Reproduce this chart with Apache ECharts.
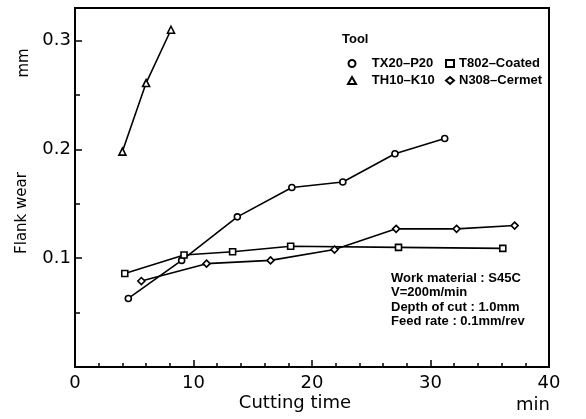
<!DOCTYPE html>
<html>
<head>
<meta charset="utf-8">
<script src="https://cdn.jsdelivr.net/npm/echarts@6/dist/echarts.min.js"></script>
<style>
  html, body { margin: 0; padding: 0; background: #fff; }
  #chart { width: 586px; height: 419px; }
</style>
</head>
<body>
<div id="chart"></div>
<script>
// cutting time (min) / flank wear (mm)
var tx20Time = [4.5, 9.0, 13.7, 18.3, 22.6, 27.0, 31.2]
var tx20Wear = [0.063, 0.098, 0.138, 0.165, 0.170, 0.196, 0.210]
var th10Time = [4.0, 6.0, 8.1]
var th10Wear = [0.198, 0.261, 0.310]
var t802Time = [4.2, 9.2, 13.3, 18.2, 27.3, 36.1]
var t802Wear = [0.086, 0.103, 0.106, 0.111, 0.110, 0.109]
var n308Time = [5.6, 11.1, 16.5, 21.9, 27.1, 32.2, 37.1]
var n308Wear = [0.079, 0.095, 0.098, 0.108, 0.127, 0.127, 0.130]

var noteLines = ['Work material : S45C', 'V=200m/min', 'Depth of cut : 1.0mm', 'Feed rate : 0.1mm/rev']

function pairs (xs, ys) {
    return xs.map(function (x, i) { return [x, ys[i]] })
}

function makeSeries (name, symbol, xs, ys, size) {
    return {
        name: name,
        type: 'line',
        data: pairs(xs, ys),
        symbol: symbol,
        symbolSize: size,
        showAllSymbol: true,
        lineStyle: { color: '#000', width: 1.6 },
        itemStyle: { color: '#fff', borderColor: '#000', borderWidth: 1.6 },
        emphasis: { disabled: true },
        z: 3
    }
}

var font = '"DejaVu Sans", sans-serif'
var smallFont = '"Liberation Sans", Arial, sans-serif'
var legendText = { color: '#000', fontSize: 13, fontWeight: 'bold', fontFamily: smallFont }

var option = {
    animation: false,
    grid: { left: 75, right: 37, top: 8, bottom: 52, show: true, borderColor: '#000', borderWidth: 2 },
    xAxis: {
        type: 'value',
        min: 0,
        max: 40,
        interval: 10,
        axisLine: { lineStyle: { color: '#000', width: 2 } },
        axisTick: { inside: true, length: 7, lineStyle: { color: '#000', width: 1.5 } },
        minorTick: { show: true, splitNumber: 5, length: 4, lineStyle: { color: '#000', width: 1.5 } },
        splitLine: { show: false },
        axisLabel: { color: '#000', fontSize: 18, fontFamily: font, margin: 7 }
    },
    yAxis: {
        type: 'value',
        min: 0,
        max: 0.33,
        interval: 0.1,
        axisLine: { lineStyle: { color: '#000', width: 2 } },
        axisTick: { inside: true, length: 7, lineStyle: { color: '#000', width: 1.5 } },
        minorTick: { show: true, splitNumber: 2, length: 5, lineStyle: { color: '#000', width: 1.5 } },
        splitLine: { show: false },
        axisLabel: {
            color: '#000', fontSize: 18, fontFamily: font, margin: 4,
            showMaxLabel: false,
            formatter: function (v) { return v === 0 ? '' : v.toFixed(1) }
        }
    },
    legend: [
        {
            left: 342, top: 52, orient: 'vertical', itemGap: 4,
            itemWidth: 8, itemHeight: 7,
            textStyle: legendText,
            formatter: function (n) { return '   ' + n },
            data: [{ name: 'TX20–P20', icon: 'circle' }, { name: 'TH10–K10', icon: 'triangle' }]
        },
        {
            left: 440, top: 52, orient: 'vertical', itemGap: 4,
            itemWidth: 8, itemHeight: 7,
            textStyle: legendText,
            data: [{ name: 'T802–Coated', icon: 'rect' }, { name: 'N308–Cermet', icon: 'diamond' }]
        }
    ],
    graphic: [
        { type: 'text', left: 342, top: 33, style: { text: 'Tool', fill: '#000', font: 'bold 13px ' + smallFont } },
        { type: 'text', left: 391, top: 271, style: { text: noteLines.join('\n'), fill: '#000', font: 'bold 13px ' + smallFont, lineHeight: 14.5 } },
        { type: 'text', x: 295, y: 403, style: { text: 'Cutting time', fill: '#000', font: '18px ' + font, align: 'center', verticalAlign: 'middle' } },
        { type: 'text', x: 533, y: 405, style: { text: 'min', fill: '#000', font: '18px ' + font, align: 'center', verticalAlign: 'middle' } },
        { type: 'text', x: 24, y: 63, rotation: Math.PI / 2, style: { text: 'mm', fill: '#000', font: '15px ' + font, align: 'center', verticalAlign: 'middle' } },
        { type: 'text', x: 22, y: 213, rotation: Math.PI / 2, style: { text: 'Flank wear', fill: '#000', font: '15px ' + font, align: 'center', verticalAlign: 'middle' } }
    ],
    series: [
        makeSeries('TX20–P20', 'circle', tx20Time, tx20Wear, 6),
        makeSeries('TH10–K10', 'triangle', th10Time, th10Wear, 7),
        makeSeries('T802–Coated', 'rect', t802Time, t802Wear, 6),
        makeSeries('N308–Cermet', 'diamond', n308Time, n308Wear, 7)
    ]
}

var myChart = echarts.init(document.getElementById('chart'))
myChart.setOption(option)
</script>
</body>
</html>
